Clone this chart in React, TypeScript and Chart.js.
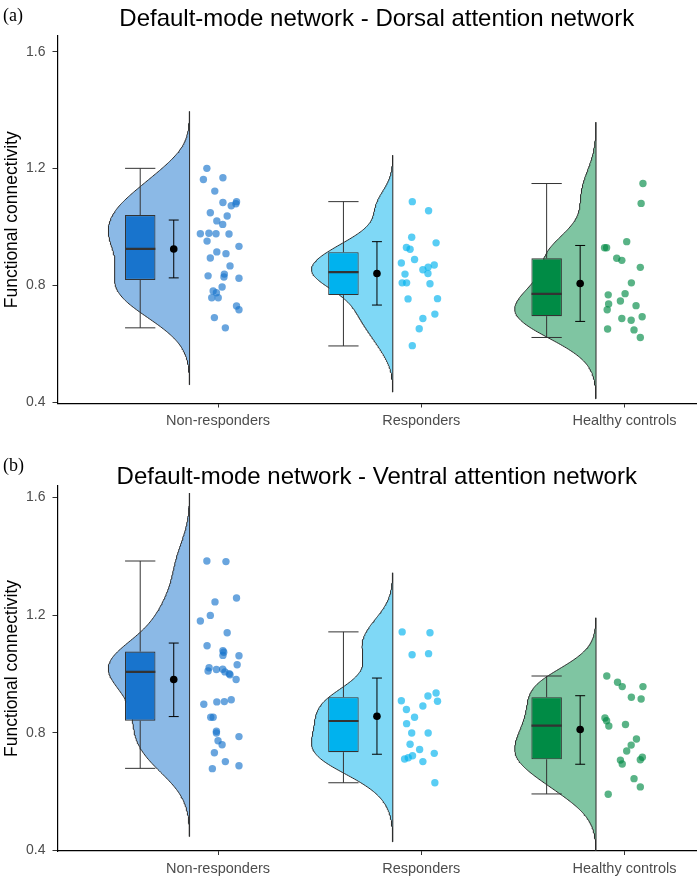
import React, { useEffect, useRef } from 'react';
import { Chart, registerables } from 'chart.js';

Chart.register(...registerables);

// ---------- shared labels / colours ----------
const categories = ['Non-responders', 'Responders', 'Healthy controls'];
const yTickValues = [0.4, 0.8, 1.2, 1.6];
const boxColors = ['#1874CD', '#00B2EE', '#008B45'];
const violinColors = ['#8BB9E6', '#7FD8F6', '#7FC5A2'];
const pointColors = ['rgba(24,116,205,0.65)', 'rgba(0,178,238,0.65)', 'rgba(0,139,69,0.65)'];

// ---------- panel (a): DMN - DAN ----------
const dorsalNonResponders = [1.201, 1.163, 1.169, 1.123, 1.084, 1.087, 1.073, 1.080, 1.049, 1.038, 1.021, 1.009, 0.977, 0.979, 0.977, 0.976, 0.952, 0.934, 0.915, 0.909, 0.894, 0.867, 0.833, 0.839, 0.829, 0.825, 0.795, 0.781, 0.775, 0.758, 0.758, 0.730, 0.717, 0.690, 0.655];
const dorsalNonRespondersJitter = [-0.055, -0.072, 0.024, -0.016, 0.024, 0.091, 0.065, 0.088, -0.038, 0.045, -0.006, 0.023, -0.087, -0.045, -0.010, 0.054, -0.054, 0.103, -0.006, 0.039, -0.038, 0.059, -0.049, 0.031, 0.029, 0.103, 0.020, -0.024, -0.008, -0.031, 0.001, 0.091, 0.103, -0.018, 0.036];
const dorsalResponders = [1.087, 1.056, 0.965, 0.946, 0.930, 0.924, 0.889, 0.877, 0.870, 0.863, 0.854, 0.841, 0.839, 0.809, 0.809, 0.806, 0.754, 0.755, 0.687, 0.702, 0.652, 0.594];
const dorsalRespondersJitter = [-0.044, 0.036, -0.047, 0.073, -0.073, -0.055, -0.033, -0.098, 0.064, 0.034, 0.008, 0.033, -0.080, -0.094, -0.072, 0.043, -0.065, 0.080, 0.008, 0.067, -0.010, -0.044];
const dorsalControls = [1.149, 1.081, 0.950, 0.929, 0.929, 0.893, 0.886, 0.862, 0.809, 0.768, 0.772, 0.737, 0.747, 0.717, 0.731, 0.687, 0.681, 0.693, 0.651, 0.648, 0.622];
const dorsalControlsJitter = [0.091, 0.082, 0.011, -0.098, -0.088, -0.038, -0.013, 0.078, 0.034, -0.080, 0.003, -0.078, -0.020, -0.085, 0.057, -0.013, 0.033, 0.087, -0.083, 0.047, 0.078];
const dorsalWhiskerLow = [0.655, 0.593, 0.622];
const dorsalQ1 = [0.819, 0.767, 0.695];
const dorsalMedian = [0.925, 0.846, 0.771];
const dorsalQ3 = [1.041, 0.914, 0.893];
const dorsalWhiskerHigh = [1.201, 1.087, 1.149];
const dorsalMean = [0.925, 0.841, 0.807];
const dorsalErrLow = [0.826, 0.733, 0.677];
const dorsalErrHigh = [1.024, 0.950, 0.937];
const dorsalBandwidth = [0.065, 0.053, 0.07];

// ---------- panel (b): DMN - VAN ----------
const ventralNonResponders = [1.384, 1.382, 1.245, 1.258, 1.199, 1.180, 1.140, 1.096, 1.079, 1.074, 1.063, 1.062, 1.031, 1.021, 1.010, 1.015, 1.016, 1.007, 1.001, 0.997, 0.981, 0.897, 0.905, 0.906, 0.912, 0.853, 0.853, 0.805, 0.799, 0.773, 0.759, 0.787, 0.732, 0.702, 0.688, 0.678];
const ventralNonRespondersJitter = [-0.055, 0.039, -0.015, 0.091, -0.038, -0.087, 0.045, -0.054, 0.024, 0.028, 0.024, 0.103, 0.094, -0.044, -0.049, -0.008, 0.023, 0.034, 0.055, 0.059, 0.089, -0.070, -0.006, 0.031, 0.065, -0.036, -0.024, -0.008, -0.008, 0.000, 0.020, 0.103, -0.018, 0.036, 0.103, -0.028];
const ventralResponders = [1.143, 1.140, 1.065, 1.069, 0.925, 0.935, 0.907, 0.909, 0.891, 0.879, 0.853, 0.831, 0.799, 0.799, 0.761, 0.743, 0.730, 0.711, 0.715, 0.722, 0.702, 0.630];
const ventralRespondersJitter = [-0.094, 0.043, -0.045, 0.036, 0.033, 0.073, 0.080, -0.098, 0.008, -0.073, -0.033, -0.072, -0.047, 0.034, -0.055, -0.008, 0.064, -0.082, -0.064, -0.043, 0.008, 0.067];
const ventralControls = [0.993, 0.972, 0.957, 0.957, 0.921, 0.915, 0.850, 0.841, 0.823, 0.828, 0.779, 0.758, 0.738, 0.707, 0.694, 0.717, 0.708, 0.644, 0.616, 0.591];
const ventralControlsJitter = [-0.087, -0.034, -0.011, 0.091, 0.034, 0.082, -0.096, -0.088, -0.077, 0.005, 0.059, 0.033, 0.011, -0.020, -0.011, 0.088, 0.078, 0.047, 0.078, -0.080];
const ventralWhiskerLow = [0.679, 0.630, 0.592];
const ventralQ1 = [0.841, 0.734, 0.710];
const ventralMedian = [1.007, 0.840, 0.824];
const ventralQ3 = [1.076, 0.921, 0.921];
const ventralWhiskerHigh = [1.384, 1.143, 0.993];
const ventralMean = [0.981, 0.856, 0.811];
const ventralErrLow = [0.855, 0.727, 0.693];
const ventralErrHigh = [1.105, 0.986, 0.926];
const ventralBandwidth = [0.077, 0.067, 0.066];

// ---------- geometry (in category units) ----------
const X_MIN = 0.21;
const X_MAX = 3.352;
const BOX_OFFSET = -0.383;
const BOX_HALF = 0.0745;
const ERR_OFFSET = -0.218;
const ERR_HALF = 0.0245;
const VIOLIN_EDGE = -0.14;
const VIOLIN_WIDTH = 0.4;

const SANS = '"Liberation Sans", Arial, sans-serif';
const SERIF = '"Liberation Serif", "Times New Roman", serif';

type Panel = {
  title: string;
  tag: string;
  groups: number[][];
  jitters: number[][];
  bw: number[];
  wLo: number[]; q1: number[]; med: number[]; q3: number[]; wHi: number[];
  mean: number[]; eLo: number[]; eHi: number[];
  yMin: number; yMax: number;
  height: number; padTop: number; xAxisHeight: number;
  titleY: number; tagY: number;
};

const panels: Panel[] = [
  {
    title: 'Default-mode network - Dorsal attention network',
    tag: '(a)',
    groups: [dorsalNonResponders, dorsalResponders, dorsalControls],
    jitters: [dorsalNonRespondersJitter, dorsalRespondersJitter, dorsalControlsJitter],
    bw: dorsalBandwidth,
    wLo: dorsalWhiskerLow, q1: dorsalQ1, med: dorsalMedian, q3: dorsalQ3, wHi: dorsalWhiskerHigh,
    mean: dorsalMean, eLo: dorsalErrLow, eHi: dorsalErrHigh,
    yMin: 0.396, yMax: 1.654,
    height: 440, padTop: 36, xAxisHeight: 36.5,
    titleY: 26, tagY: 21,
  },
  {
    title: 'Default-mode network - Ventral attention network',
    tag: '(b)',
    groups: [ventralNonResponders, ventralResponders, ventralControls],
    jitters: [ventralNonRespondersJitter, ventralRespondersJitter, ventralControlsJitter],
    bw: ventralBandwidth,
    wLo: ventralWhiskerLow, q1: ventralQ1, med: ventralMedian, q3: ventralQ3, wHi: ventralWhiskerHigh,
    mean: ventralMean, eLo: ventralErrLow, eHi: ventralErrHigh,
    yMin: 0.398, yMax: 1.639,
    height: 438, padTop: 46, xAxisHeight: 27,
    titleY: 44, tagY: 31,
  },
];

function kde(values: number[], bw: number, steps = 240) {
  const lo = Math.min(...values) - 3 * bw;
  const hi = Math.max(...values) + 3 * bw;
  const out: { y: number; d: number }[] = [];
  let maxD = 0;
  for (let i = 0; i <= steps; i++) {
    const y = lo + ((hi - lo) * i) / steps;
    let d = 0;
    for (const v of values) {
      const z = (y - v) / bw;
      d += Math.exp(-0.5 * z * z);
    }
    if (d > maxD) maxD = d;
    out.push({ y, d });
  }
  return out.map((p) => ({ y: p.y, w: p.d / maxD }));
}

function buildDatasets(p: Panel) {
  const datasets: any[] = [];
  const edgeSegs: any[] = [];
  const whiskers: any[] = [];
  const medians: any[] = [];
  const errs: any[] = [];
  const means: any[] = [];
  const boxes: any[] = [];

  p.groups.forEach((vals, g) => {
    const c = g + 1;
    const edge = c + VIOLIN_EDGE;
    const curve = kde(vals, p.bw[g]);
    datasets.push({
      type: 'line',
      indexAxis: 'y',
      data: curve.map((pt) => ({ x: edge - pt.w * VIOLIN_WIDTH, y: pt.y })),
      fill: { value: edge },
      backgroundColor: violinColors[g],
      borderColor: '#2b2b2b',
      borderWidth: 1,
      pointRadius: 0,
      tension: 0,
      order: 10,
    });
    edgeSegs.push({ x: edge, y: curve[0].y }, { x: edge, y: curve[curve.length - 1].y }, { x: edge, y: null });

    datasets.push({
      type: 'scatter',
      data: vals.map((v, i) => ({ x: c + p.jitters[g][i], y: v })),
      pointRadius: 3.7,
      pointBackgroundColor: pointColors[g],
      pointBorderWidth: 0,
      order: 8,
    });

    const bx = c + BOX_OFFSET;
    const gap = { x: bx, y: null };
    whiskers.push(
      { x: bx, y: p.wLo[g] }, { x: bx, y: p.q1[g] }, gap,
      { x: bx, y: p.q3[g] }, { x: bx, y: p.wHi[g] }, gap,
      { x: bx - BOX_HALF, y: p.wLo[g] }, { x: bx + BOX_HALF, y: p.wLo[g] }, gap,
      { x: bx - BOX_HALF, y: p.wHi[g] }, { x: bx + BOX_HALF, y: p.wHi[g] }, gap,
    );
    medians.push({ x: bx - BOX_HALF, y: p.med[g] }, { x: bx + BOX_HALF, y: p.med[g] }, gap);
    boxes.push({ x: bx, y: [p.q1[g], p.q3[g]] });

    const ex = c + ERR_OFFSET;
    const eg = { x: ex, y: null };
    errs.push(
      { x: ex, y: p.eLo[g] }, { x: ex, y: p.eHi[g] }, eg,
      { x: ex - ERR_HALF, y: p.eLo[g] }, { x: ex + ERR_HALF, y: p.eLo[g] }, eg,
      { x: ex - ERR_HALF, y: p.eHi[g] }, { x: ex + ERR_HALF, y: p.eHi[g] }, eg,
    );
    means.push({ x: ex, y: p.mean[g] });
  });

  const seg = (data: any[], color: string, width: number, order: number) => ({
    type: 'line', data, borderColor: color, borderWidth: width, pointRadius: 0,
    fill: false, spanGaps: false, tension: 0, order,
  });

  datasets.push(seg(edgeSegs, '#2b2b2b', 1, 9));
  datasets.push(seg(whiskers, '#333333', 1, 7));
  datasets.push({
    type: 'bar',
    data: boxes,
    backgroundColor: boxColors,
    borderColor: '#333333',
    borderWidth: 1.1,
    borderSkipped: false,
    barThickness: 30.5,
    inflateAmount: 0,
    order: 6,
  });
  datasets.push(seg(medians, '#333333', 2.2, 5));
  datasets.push(seg(errs, '#000000', 1, 4));
  datasets.push({
    type: 'scatter',
    data: means,
    pointRadius: 3.8,
    pointBackgroundColor: '#000000',
    pointBorderWidth: 0,
    order: 3,
  });
  return datasets;
}

const panelTitlePlugin = {
  id: 'panelTitle',
  afterDraw(chart: any, _args: any, opts: any) {
    const { ctx, chartArea } = chart;
    ctx.save();
    ctx.fillStyle = '#000';
    ctx.textBaseline = 'alphabetic';
    ctx.font = `24px ${SANS}`;
    ctx.textAlign = 'center';
    ctx.fillText(opts.text, (chartArea.left + chartArea.right) / 2, opts.titleY);
    ctx.font = `18px ${SERIF}`;
    ctx.textAlign = 'left';
    ctx.fillText(opts.tag, 3, opts.tagY);
    ctx.restore();
  },
};

function RaincloudPanel({ p }: { p: Panel }) {
  const ref = useRef<HTMLCanvasElement | null>(null);
  useEffect(() => {
    if (!ref.current) return;
    const chart = new Chart(ref.current, {
      type: 'scatter',
      data: { datasets: buildDatasets(p) as any },
      plugins: [panelTitlePlugin as any],
      options: {
        responsive: false,
        maintainAspectRatio: false,
        animation: false,
        events: [],
        layout: { padding: { top: p.padTop, right: 0, bottom: 0, left: 0 } },
        plugins: {
          legend: { display: false },
          tooltip: { enabled: false },
          panelTitle: { text: p.title, tag: p.tag, titleY: p.titleY, tagY: p.tagY },
        } as any,
        scales: {
          x: {
            type: 'linear',
            min: X_MIN,
            max: X_MAX,
            offset: false,
            afterBuildTicks: (s: any) => { s.ticks = [1, 2, 3].map((v) => ({ value: v })); },
            afterFit: (s: any) => { s.height = p.xAxisHeight; },
            ticks: {
              callback: (v: any) => categories[Math.round(Number(v)) - 1] ?? '',
              font: { family: SANS, size: 14.5 },
              color: '#4D4D4D',
              padding: 5,
              autoSkip: false,
              maxRotation: 0,
            },
            grid: { display: true, drawOnChartArea: false, drawTicks: true, tickLength: 4, color: '#333333', offset: false },
            border: { display: true, color: '#000000', width: 1.2 },
          },
          y: {
            type: 'linear',
            min: p.yMin,
            max: p.yMax,
            beginAtZero: false,
            afterBuildTicks: (s: any) => { s.ticks = yTickValues.map((v) => ({ value: v })); },
            afterFit: (s: any) => { s.width = 57.5; },
            ticks: {
              callback: (v: any) => Number(v).toFixed(1),
              font: { family: SANS, size: 14 },
              color: '#4D4D4D',
              padding: 7,
            },
            grid: { display: true, drawOnChartArea: false, drawTicks: true, tickLength: 5, color: '#333333' },
            border: { display: true, color: '#000000', width: 1.2 },
            title: {
              display: true,
              text: 'Functional connectivity',
              font: { family: SANS, size: 17.5 },
              color: '#000000',
              padding: { top: 2, bottom: 0 },
            },
          },
        },
      } as any,
    });
    return () => chart.destroy();
  }, [p]);
  return <canvas ref={ref} width={700} height={p.height} style={{ display: 'block', width: 700, height: p.height }} />;
}

export default function App() {
  return (
    <div style={{ position: 'absolute', left: 0, top: 0, width: 700, height: 878, background: '#ffffff' }}>
      {panels.map((p) => (
        <RaincloudPanel key={p.tag} p={p} />
      ))}
    </div>
  );
}
